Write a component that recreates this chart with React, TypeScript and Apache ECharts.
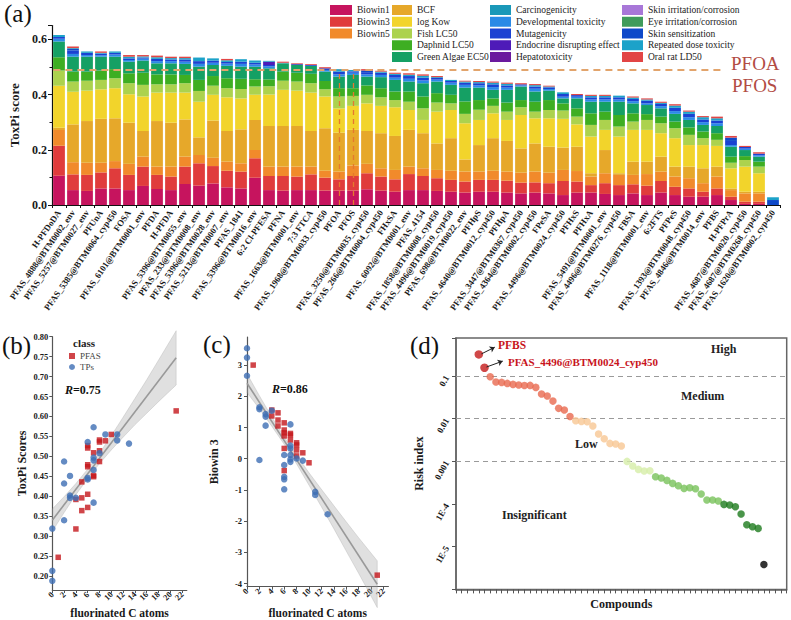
import { useEffect, useRef } from "react";
import * as echarts from "echarts";

const SERIF = '"Liberation Serif", "Times New Roman", serif';

// ---------- Panel (a) data ----------
const compounds = [
  "H-PFDoDA", "PFAS_4888@BTM0002_env", "PFAS_5257@BTM0027_env", "PFUnA", "PFAS_5385@BTM0064_cyp450", "FOSA",
  "PFAS_6101@BTM0001_env", "PFDA", "H-PFDA", "PFAS_5396@BTM0055_env", "PFAS_233@BTM0008_env", "PFAS_5396@BTM0028_env",
  "PFAS_5213@BTM0007_env", "PFAS_1841", "PFAS_5396@BTM0016_env", "6:2 Cl-PFESA", "PFNA", "PFAS_1663@BTM0001_env",
  "7:3 FTCA", "PFAS_1968@BTM0033_cyp450", "PFOA", "PFOS", "PFAS_3250@BTM0035_cyp450", "PFAS_266@BTM0004_cyp450",
  "FHxSA", "PFAS_6092@BTM0001_env", "PFAS_4154", "PFAS_1858@BTM0008_cyp450", "PFAS_4496@BTM0019_cyp450",
  "PFAS_698@BTM0022_env", "PFHpS", "PFAS_4640@BTM0012_cyp450", "PFHpA", "PFAS_3447@BTM0367_cyp450",
  "PFAS_4364@BTM0002_cyp450", "FPeSA", "PFAS_4496@BTM0024_cyp450", "PFHxS", "PFHxA", "PFAS_5491@BTM0001_env",
  "PFAS_4496@BTM0276_cyp450", "FBSA", "PFAS_1118@BTM0001_env", "6:2FTS", "PFPeS", "PFAS_1393@BTM0048_cyp450",
  "PFAS_4846@BTM0014_env", "PFBS", "H-PFPrA", "PFAS_4687@BTM0020_cyp450", "PFAS_4687@BTM0268_cyp450",
  "PFAS_1620@BTM0002_cyp450",
];

const biowin1 = [0.106,0.054,0.051,0.060,0.060,0.054,0.069,0.058,0.054,0.076,0.070,0.078,0.064,0.060,0.099,0.054,0.052,0.054,0.054,0.052,0.052,0.052,0.057,0.052,0.048,0.054,0.054,0.051,0.048,0.045,0.048,0.048,0.045,0.042,0.045,0.042,0.036,0.045,0.045,0.040,0.036,0.042,0.036,0.045,0.036,0.030,0.030,0.036,0.018,0.004,0.004,0];
const biowin3 = [0.109,0.057,0.058,0.058,0.073,0.055,0.070,0.051,0.049,0.063,0.081,0.063,0.060,0.061,0.070,0.051,0.053,0.049,0.057,0.047,0.041,0.053,0.058,0.051,0.045,0.058,0.051,0.046,0.043,0.040,0.043,0.043,0.043,0.039,0.037,0.037,0.051,0.040,0.027,0.039,0.036,0.033,0.034,0.042,0.030,0.030,0.018,0.024,0.012,0.008,0.008,0];
const biowin5 = [0.057,0.044,0.044,0.035,0.026,0.040,0.036,0.030,0.036,0.036,0.030,0.030,0.033,0.030,0.030,0.034,0.034,0.036,0.028,0.025,0.028,0.038,0.034,0.030,0.034,0.027,0.028,0.030,0.033,0.036,0.030,0.033,0.033,0.036,0.039,0.038,0.040,0.038,0.031,0.036,0.037,0.034,0.042,0.034,0.037,0.037,0.031,0.043,0.024,0.030,0.030,0];
const bcf = [0.008,0.137,0.151,0.159,0.155,0.149,0.093,0.165,0.159,0.135,0.064,0.135,0.111,0.123,0.109,0.147,0.147,0.147,0.129,0.154,0.141,0.129,0.119,0.127,0.123,0.133,0.127,0.096,0.118,0.044,0.096,0.118,0.111,0.088,0.102,0.094,0.081,0.088,0.012,0.084,0.006,0.048,0.045,0.054,0.036,0.042,0.054,0.036,0.006,0.006,0.006,0];
const logKow = [0.152,0.118,0.110,0.107,0.109,0.103,0.125,0.103,0.109,0.097,0.129,0.093,0.122,0.112,0.091,0.114,0.131,0.128,0.139,0.115,0.088,0.087,0.100,0.099,0.104,0.072,0.048,0.115,0.102,0.131,0.091,0.090,0.076,0.121,0.091,0.103,0.104,0.081,0.133,0.073,0.133,0.115,0.115,0.085,0.103,0.078,0.084,0.075,0.073,0.091,0.067,0];
const fishLC50 = [0.055,0.037,0.036,0.034,0.036,0.040,0.042,0.030,0.030,0.034,0.039,0.033,0.033,0.034,0.030,0.030,0.033,0.033,0.034,0.026,0.043,0.036,0.031,0.031,0.026,0.030,0.042,0.033,0.024,0.034,0.037,0.027,0.030,0.028,0.024,0.030,0.030,0.028,0.042,0.036,0.036,0.030,0.036,0.036,0.036,0.037,0.025,0.022,0.020,0.024,0.024,0];
const daphnidLC50 = [0.048,0.036,0.033,0.034,0.033,0.036,0.044,0.036,0.036,0.030,0.040,0.035,0.036,0.037,0.026,0.025,0.033,0.032,0.034,0.030,0.030,0.028,0.034,0.033,0.031,0.037,0.043,0.034,0.031,0.045,0.035,0.027,0.033,0.026,0.036,0.036,0.026,0.030,0.042,0.030,0.042,0.030,0.021,0.024,0.024,0.027,0.024,0.024,0.022,0.014,0.018,0];
const algaeEC50 = [0.057,0.054,0.054,0.050,0.045,0.042,0.044,0.040,0.040,0.040,0.048,0.040,0.045,0.044,0.046,0.040,0.030,0.028,0.029,0.034,0.042,0.048,0.032,0.040,0.042,0.036,0.048,0.042,0.036,0.050,0.045,0.031,0.046,0.049,0.037,0.034,0.018,0.036,0.042,0.036,0.048,0.036,0.033,0.030,0.028,0.027,0.024,0.026,0.036,0.022,0.018,0];
const carcinogenicity = [0,0,0,0,0,0,0,0,0,0,0,0,0,0,0,0,0,0,0,0,0,0,0,0,0,0,0,0,0,0,0,0,0,0,0,0,0,0,0,0,0,0,0,0,0,0,0,0,0,0,0,0];
const developmental = [0.010,0.010,0.006,0.005,0.008,0.006,0.007,0.008,0.008,0.008,0.010,0.008,0.008,0.010,0.008,0.007,0,0,0,0.006,0.008,0.008,0.008,0.008,0.008,0.010,0.010,0.007,0.008,0.010,0.008,0.010,0.008,0.004,0.010,0.006,0.006,0.006,0.008,0.008,0.008,0.008,0.006,0.008,0.010,0.010,0.010,0.010,0.006,0.005,0.005,0];
const mutagenicity = [0.006,0.012,0.008,0.006,0.006,0.006,0.004,0.008,0.006,0.008,0.010,0.008,0.006,0.008,0.006,0.005,0,0.003,0.003,0.006,0.010,0.005,0.008,0.008,0.010,0.010,0.010,0.006,0.006,0.008,0.008,0.010,0.008,0.004,0.008,0.006,0.010,0.006,0.008,0.008,0.008,0.008,0.010,0.008,0.012,0.012,0.010,0.010,0.015,0.006,0.006,0];
const endocrine = [0,0,0,0,0,0,0,0,0,0,0,0,0,0,0,0.012,0,0,0,0,0,0,0,0,0,0,0,0,0,0,0,0,0,0,0,0,0,0,0,0,0,0,0,0,0,0,0,0,0,0,0,0];
const hepatotoxicity = [0,0,0,0,0,0,0,0,0,0,0,0,0,0,0,0,0,0,0,0,0,0,0,0,0,0,0,0,0,0,0,0,0,0,0,0,0,0,0,0,0,0,0,0,0,0,0,0,0,0,0,0];
const skinIrritation = [0,0,0,0,0,0,0,0,0,0,0,0,0,0,0,0,0,0,0,0,0,0,0,0,0,0,0,0,0,0,0,0,0,0,0,0,0,0,0,0,0,0,0,0,0,0,0,0,0,0,0,0];
const eyeIrritation = [0,0,0,0,0,0,0,0,0,0,0,0,0,0,0,0,0,0,0,0,0,0,0,0,0,0,0,0,0,0,0,0,0,0,0,0,0,0,0,0,0,0,0,0,0,0,0,0,0,0,0,0];
const skinSensitization = [0,0.006,0,0,0,0,0,0,0,0,0,0,0,0,0,0,0,0,0,0,0,0,0.006,0,0,0,0,0,0,0,0,0,0,0,0,0,0,0,0,0,0,0,0,0,0,0,0,0,0.012,0,0,0.018];
const repeatedDose = [0.008,0.003,0.005,0.003,0.005,0.006,0.004,0.006,0.005,0.005,0.013,0.008,0.006,0.009,0.008,0.003,0.002,0,0,0,0.009,0.005,0,0.004,0.004,0.005,0.007,0.003,0.004,0.004,0.004,0.006,0.006,0,0.005,0.003,0.006,0,0.005,0.005,0.006,0.005,0.004,0.004,0.008,0.008,0.008,0.008,0,0,0,0.010];
const oralRatLD50 = [0,0.006,0,0.005,0,0.006,0.005,0.006,0.005,0.005,0,0,0.005,0,0,0,0.004,0.003,0.003,0.004,0,0,0.005,0.003,0.004,0.005,0.005,0.004,0,0.003,0.004,0.004,0.004,0.004,0.004,0.003,0,0.004,0.004,0.004,0,0.004,0.004,0.004,0.005,0.004,0.004,0.006,0.006,0.004,0.005,0];

const toxNames = [
  "Biowin1", "Biowin3", "Biowin5", "BCF", "log Kow", "Fish LC50", "Daphnid LC50", "Green Algae EC50",
  "Carcinogenicity", "Developmental toxicity", "Mutagenicity", "Endocrine disrupting effect", "Hepatotoxicity",
  "Skin irritation/corrosion", "Eye irritation/corrosion", "Skin sensitization", "Repeated dose toxicity", "Oral rat LD50",
];
const toxData = [
  biowin1, biowin3, biowin5, bcf, logKow, fishLC50, daphnidLC50, algaeEC50, carcinogenicity, developmental,
  mutagenicity, endocrine, hepatotoxicity, skinIrritation, eyeIrritation, skinSensitization, repeatedDose, oralRatLD50,
];
const toxColors = [
  "#c6145e", "#e03c3c", "#f18a2b", "#e6a82a", "#f2d42b", "#acd24e", "#3eae22", "#15a064",
  "#1a98b8", "#2a8ae6", "#1b42d2", "#4e1ab8", "#6b1a9e", "#a877d8", "#3f9b5b", "#0f49c9", "#1ca2c9", "#e24545",
];
const refLevel = 0.49; // PFOA / PFOS ToxPi level

// ---------- Panel (b) data ----------
const pfasB = [[1,0.247],[4,0.318],[4,0.392],[5,0.396],[5,0.364],[5,0.436],[6,0.372],[6,0.405],[6,0.474],[6,0.479],[6,0.521],[6,0.527],[7,0.449],[7,0.452],[7,0.509],[8,0.487],[8,0.514],[8,0.536],[8,0.541],[9,0.539],[10,0.555],[21,0.614]];
const tpsB = [[0,0.319],[0,0.213],[0,0.188],[2,0.340],[2,0.432],[2,0.487],[3,0.451],[3,0.402],[3,0.396],[4,0.396],[6,0.536],[6,0.442],[6,0.446],[7,0.573],[7,0.497],[7,0.490],[7,0.466],[7,0.384],[8,0.508],[9,0.555],[11,0.555],[11,0.540],[13,0.532]];
const fitB = [[0, 0.340], [21, 0.747]];
const bandX = [0, 2, 4, 6, 8, 10, 12, 14, 16, 18, 21];
const bandBLo = [0.312,0.359,0.404,0.444,0.482,0.516,0.548,0.579,0.608,0.637,0.679];
const bandBHi = [0.368,0.399,0.432,0.468,0.508,0.552,0.598,0.645,0.692,0.741,0.815];

// ---------- Panel (c) data ----------
const pfasC = [[1,3.0],[4,1.37],[4,1.56],[5,1.47],[5,1.24],[5,1.05],[6,1.15],[6,0.92],[6,0.83],[6,0.73],[6,0.33],[6,-0.38],[7,0.81],[7,0.76],[7,0.6],[8,0.51],[8,0.44],[8,0.28],[8,0.09],[9,0.19],[10,-0.13],[21,-3.73]];
const tpsC = [[0,3.54],[0,3.24],[0,2.66],[2,1.65],[2,1.59],[2,-0.04],[3,1.35],[3,1.43],[3,1.06],[4,1.54],[6,0.12],[6,-0.2],[6,-0.58],[6,-0.66],[6,-0.98],[7,1.1],[7,0.42],[7,0.33],[7,0.12],[7,-0.02],[7,-0.1],[8,0.01],[9,-0.06],[11,-1.06],[11,-1.16],[13,-1.78]];
const fitC = [[0, 2.42], [21, -4.02]];
const bandCLo = [2.12,1.60,1.04,0.46,-0.17,-0.85,-1.54,-2.24,-2.96,-3.67,-4.77];
const bandCHi = [2.72,2.02,1.34,0.70,0.11,-0.45,-0.98,-1.50,-2.02,-2.53,-3.27];

// ---------- Panel (d) data ----------
const riskIndex = [0.322,0.157,0.0964,0.0723,0.0710,0.0673,0.0638,0.0615,0.0600,0.0604,0.0542,0.0379,0.0340,0.0259,0.0175,0.0160,0.0113,0.00898,0.00866,0.0085,0.00673,0.00437,0.00340,0.00264,0.00255,0.00229,0.00100,0.000778,0.000649,0.000593,0.000604,0.000437,0.000407,0.000359,0.000305,0.000269,0.000233,0.000242,0.000229,0.000172,0.000124,0.000124,0.000118,0.0000982,0.0000948,0.0000866,0.0000583,0.0000328,0.0000294,0.0000269,0.00000385];
const riskClass = [
  "high","high",
  "medium","medium","medium","medium","medium","medium","medium","medium","medium","medium","medium","medium","medium","medium","medium",
  "low","low","low","low","low","low","low","low","low",
  "ins1","ins1","ins1","ins1","ins1",
  "ins2","ins2","ins2","ins2","ins2","ins2","ins2","ins2","ins2","ins2","ins2","ins2",
  "ins3","ins3","ins3","ins3","ins3","ins3","ins3",
  "ins4",
];
const riskThresholds = [0.1, 0.01, 0.001];

const riskColors: Record<string, string> = {
  high: "#c41a1a", medium: "#e8694f", low: "#f8c794", ins1: "#d6eda8", ins2: "#78c25a", ins3: "#1d7a1d", ins4: "#000000",
};

function txt(x: number, y: number, text: string, font: string, fill = "#111", align = "left") {
  return {
    type: "text", x, y, silent: true, z: 50,
    style: { text, font, fill, textAlign: align, textVerticalAlign: "middle" },
  };
}

function band(xi: number, yi: number, bx: number[], lo: number[], hi: number[]) {
  return {
    type: "custom", xAxisIndex: xi, yAxisIndex: yi, silent: true, z: 1,
    data: bx.map((x, i) => [x, lo[i], hi[i]]),
    encode: { x: 0, y: [1, 2] },
    renderItem: (params: any, api: any) => {
      if (params.dataIndex !== 0) return null;
      const pts: number[][] = [];
      for (let i = 0; i < bx.length; i++) pts.push(api.coord([bx[i], lo[i]]));
      for (let i = bx.length - 1; i >= 0; i--) pts.push(api.coord([bx[i], hi[i]]));
      return {
        type: "polygon", shape: { points: pts },
        style: { fill: "rgba(165,165,165,0.35)", stroke: "rgba(150,150,150,0.45)", lineWidth: 0.6 },
      };
    },
  };
}

function buildOption() {
  const boldLabel = (size: number) => ({ fontFamily: SERIF, fontWeight: "bold", fontSize: size, color: "#1a1a1a" });
  const axisLine = (c = "#333", w = 1.2) => ({ show: true, onZero: false, lineStyle: { color: c, width: w } });

  const legendCols = [
    { names: toxNames.slice(0, 3), left: 330, w: 22 },
    { names: toxNames.slice(3, 8), left: 392, w: 20 },
    { names: toxNames.slice(8, 13), left: 490, w: 21 },
    { names: toxNames.slice(13, 18), left: 622, w: 21 },
  ];

  const toxSeries = toxNames.map((name, k) => ({
    name, type: "bar", stack: "tox", xAxisIndex: 0, yAxisIndex: 0, data: toxData[k],
    itemStyle: { color: toxColors[k] }, barCategoryGap: "16%", silent: true,
  }));

  const iPFOA = compounds.indexOf("PFOA");
  const iPFOS = compounds.indexOf("PFOS");

  const xB = {
    type: "value", min: 0, max: 22.8, interval: 2,
    axisLine: axisLine("#555"), axisTick: { show: true, length: 3, lineStyle: { color: "#555" } },
    splitLine: { show: false },
    axisLabel: { ...boldLabel(8.5), rotate: 45, margin: 3, showMaxLabel: false },
    name: "fluorinated C atoms", nameLocation: "middle",
    nameTextStyle: { ...boldLabel(11.5) },
  };

  const arrowStyle = { color: "#222", type: "solid", width: 1 };
  const threshStyle = { color: "#9a9a9a", type: [5, 4], width: 1.2 };

  return {
    animation: false,
    backgroundColor: "#ffffff",
    textStyle: { fontFamily: SERIF },
    grid: [
      { left: 52, top: 25.5, width: 728, height: 179.5 },
      { left: 52.3, top: 336.7, width: 134.5, height: 253.3 },
      { left: 247, top: 337, width: 141.4, height: 249.7 },
      { left: 456, top: 338, width: 330.7, height: 251.4, show: true, borderColor: "#666", borderWidth: 1.5 },
    ],
    legend: [
      ...legendCols.map((c) => ({
        data: c.names, left: c.left, top: 5, orient: "vertical", itemWidth: c.w, itemHeight: 10, itemGap: 1.75,
        icon: "rect", padding: 0, selectedMode: false,
        textStyle: { fontFamily: SERIF, fontSize: 9.5, color: "#222", lineHeight: 10 },
      })),
      {
        data: [{ name: "PFAS", icon: "rect" }, { name: "TPs", icon: "circle" }],
        left: 69, top: 351.5, orient: "vertical", itemWidth: 6, itemHeight: 6, itemGap: 2, padding: 0,
        selectedMode: false, textStyle: { fontFamily: SERIF, fontSize: 9, color: "#444", lineHeight: 9 },
      },
    ],
    xAxis: [
      {
        gridIndex: 0, type: "category", data: compounds,
        axisLine: axisLine("#111"), axisTick: { show: true, length: 3, lineStyle: { color: "#111" } },
        axisLabel: { ...boldLabel(8.8), interval: 0, rotate: 55, margin: 6 },
      },
      { ...xB, gridIndex: 1, nameGap: 17 },
      { ...xB, gridIndex: 2, nameGap: 20 },
      {
        gridIndex: 3, type: "value", min: -3, max: 55, interval: 1,
        axisLine: axisLine("#666", 1.5), axisTick: { show: true, length: 4, lineStyle: { color: "#555" } },
        axisLabel: { show: false }, splitLine: { show: false },
        name: "Compounds", nameLocation: "middle", nameGap: 9, nameTextStyle: { ...boldLabel(12) },
      },
      { gridIndex: 0, type: "value", min: -0.5, max: compounds.length - 0.5, show: false },
    ],
    yAxis: [
      {
        gridIndex: 0, type: "value", min: 0, max: 0.65, interval: 0.2,
        axisLine: axisLine("#111"), axisTick: { show: true, length: 4, lineStyle: { color: "#111" } },
        minorTick: { show: true, splitNumber: 2, length: 2.5, lineStyle: { color: "#111" } },
        splitLine: { show: false },
        axisLabel: { ...boldLabel(12), showMaxLabel: false, margin: 5, formatter: (v: number) => v.toFixed(1) },
        name: "ToxPi score", nameLocation: "middle", nameGap: 23, nameTextStyle: { ...boldLabel(13) },
      },
      {
        gridIndex: 1, type: "value", min: 0.165, max: 0.8, splitNumber: 13,
        axisLine: axisLine("#555"), axisTick: { show: true, length: 3, lineStyle: { color: "#555" } },
        splitLine: { show: false },
        axisLabel: { ...boldLabel(8.5), showMinLabel: false, margin: 4, formatter: (v: number) => v.toFixed(2) },
        name: "ToxPi Scores", nameLocation: "middle", nameGap: 24, nameTextStyle: { ...boldLabel(12) },
      },
      {
        gridIndex: 2, type: "value", min: -4.1, max: 3.9, splitNumber: 8,
        axisLine: axisLine("#555"), axisTick: { show: true, length: 3, lineStyle: { color: "#555" } },
        splitLine: { show: false },
        axisLabel: { ...boldLabel(8.5), showMinLabel: false, showMaxLabel: false, margin: 5,
          formatter: (v: number) => String(Math.round(v)) },
        name: "Biowin 3", nameLocation: "middle", nameGap: 27, nameTextStyle: { ...boldLabel(12) },
      },
      {
        gridIndex: 3, type: "log", logBase: 10, min: 0.000001, max: 0.78,
        axisLine: axisLine("#666", 1.5), axisTick: { show: true, length: 4, lineStyle: { color: "#555" } },
        splitLine: { show: false },
        axisLabel: {
          ...boldLabel(9), rotate: 60, margin: 9,
          formatter: (v: number) => {
            const l = Math.log10(v);
            const e = Math.round(l);
            if (Math.abs(l - e) > 1e-6) return "";
            const m: Record<string, string> = { "-1": "0.1", "-2": "0.01", "-3": "0.001", "-4": "1E-4", "-5": "1E-5" };
            return m[String(e)] || "";
          },
        },
        name: "Risk index", nameLocation: "middle", nameGap: 31, nameTextStyle: { ...boldLabel(12) },
      },
    ],
    series: [
      ...toxSeries,
      {
        type: "line", xAxisIndex: 4, yAxisIndex: 0, data: [], silent: true,
        markLine: {
          silent: true, symbol: "none", label: { show: false }, z: 6,
          data: [
            [
              { coord: [-0.4, refLevel], lineStyle: { color: "#e2a46c", type: [7, 5], width: 2.2 } },
              { coord: [47.5, refLevel], lineStyle: { color: "#e2a46c", type: [7, 5], width: 2.2 } },
            ],
            [
              { coord: [iPFOA, 0], lineStyle: { color: "#e5782e", type: [5, 4], width: 1.3 } },
              { coord: [iPFOA, refLevel], lineStyle: { color: "#e5782e", type: [5, 4], width: 1.3 } },
            ],
            [
              { coord: [iPFOS, 0], lineStyle: { color: "#e5782e", type: [5, 4], width: 1.3 } },
              { coord: [iPFOS, refLevel], lineStyle: { color: "#e5782e", type: [5, 4], width: 1.3 } },
            ],
          ],
        },
      },
      // (b)
      band(1, 1, bandX, bandBLo, bandBHi),
      { type: "line", xAxisIndex: 1, yAxisIndex: 1, data: fitB, symbol: "none", silent: true, z: 2,
        lineStyle: { color: "#999", width: 1.6 } },
      { name: "PFAS", type: "scatter", xAxisIndex: 1, yAxisIndex: 1, data: pfasB, symbol: "rect", symbolSize: 5.5,
        itemStyle: { color: "#c4161c" }, z: 3 },
      { name: "TPs", type: "scatter", xAxisIndex: 1, yAxisIndex: 1, data: tpsB, symbol: "circle", symbolSize: 6.5,
        itemStyle: { color: "#3d6eb4" }, z: 3 },
      // (c)
      band(2, 2, bandX, bandCLo, bandCHi),
      { type: "line", xAxisIndex: 2, yAxisIndex: 2, data: fitC, symbol: "none", silent: true, z: 2,
        lineStyle: { color: "#999", width: 1.6 } },
      { name: "PFAS", type: "scatter", xAxisIndex: 2, yAxisIndex: 2, data: pfasC, symbol: "rect", symbolSize: 5.5,
        itemStyle: { color: "#c4161c" }, z: 3 },
      { name: "TPs", type: "scatter", xAxisIndex: 2, yAxisIndex: 2, data: tpsC, symbol: "circle", symbolSize: 6.5,
        itemStyle: { color: "#3d6eb4" }, z: 3 },
      // (d) threshold lines
      {
        type: "line", xAxisIndex: 3, yAxisIndex: 3, data: [], silent: true,
        markLine: {
          silent: true, symbol: "none", label: { show: false }, z: 2,
          data: riskThresholds.map((t) => [
            { coord: [-3, t], lineStyle: threshStyle },
            { coord: [55, t], lineStyle: threshStyle },
          ]),
        },
      },
      // (d) points
      {
        type: "scatter", xAxisIndex: 3, yAxisIndex: 3, z: 3,
        data: riskIndex.map((v, i) => ({
          value: [i + 1, v],
          symbolSize: riskClass[i] === "high" ? 8.5 : 7.5,
          itemStyle: { color: riskColors[riskClass[i]] },
        })),
        markLine: {
          silent: true, symbol: "none", label: { show: false },
          data: [
            [
              { coord: [1.45, 0.33], symbol: "none", lineStyle: arrowStyle },
              { coord: [3.8, 0.475], symbol: "arrow", symbolSize: 5, lineStyle: arrowStyle },
            ],
            [
              { coord: [2.35, 0.163], symbol: "none", lineStyle: arrowStyle },
              { coord: [5.2, 0.224], symbol: "arrow", symbolSize: 5, lineStyle: arrowStyle },
            ],
          ],
        },
      },
    ],
    graphic: [
      txt(4, 13, "(a)", `25px ${SERIF}`, "#111"),
      txt(731, 63.5, "PFOA", `19px ${SERIF}`, "#b24c44"),
      txt(732, 85.5, "PFOS", `19px ${SERIF}`, "#b24c44"),
      txt(2, 345, "(b)", `25px ${SERIF}`, "#111"),
      txt(73, 343, "class", `bold 11px ${SERIF}`, "#222"),
      {
        type: "text", x: 65, y: 390, silent: true, z: 50,
        style: {
          text: "{i|R}{n|=0.75}", textVerticalAlign: "middle",
          rich: { i: { font: `italic bold 12px ${SERIF}`, fill: "#111" }, n: { font: `bold 12px ${SERIF}`, fill: "#111" } },
        },
      },
      txt(203, 344, "(c)", `25px ${SERIF}`, "#111"),
      {
        type: "text", x: 272, y: 389, silent: true, z: 50,
        style: {
          text: "{i|R}{n|=0.86}", textVerticalAlign: "middle",
          rich: { i: { font: `italic bold 12px ${SERIF}`, fill: "#111" }, n: { font: `bold 12px ${SERIF}`, fill: "#111" } },
        },
      },
      txt(410, 345, "(d)", `25px ${SERIF}`, "#111"),
      txt(711, 349, "High", `bold 12px ${SERIF}`, "#222"),
      txt(681, 396, "Medium", `bold 12px ${SERIF}`, "#222"),
      txt(575, 444, "Low", `bold 12px ${SERIF}`, "#222"),
      txt(502, 514.5, "Insignificant", `bold 12px ${SERIF}`, "#222"),
      txt(498, 345, "PFBS", `bold 11.5px ${SERIF}`, "#c8141c"),
      txt(508, 361.5, "PFAS_4496@BTM0024_cyp450", `bold 11px ${SERIF}`, "#c8141c"),
    ],
  };
}

export default function App() {
  const ref = useRef<HTMLDivElement>(null);
  useEffect(() => {
    if (!ref.current) return;
    const chart = echarts.init(ref.current, null, { renderer: "svg" });
    chart.setOption(buildOption() as any);
    return () => chart.dispose();
  }, []);
  return (
    <div
      ref={ref}
      style={{ position: "fixed", left: 0, top: 0, width: 791, height: 620, background: "#fff" }}
    />
  );
}
